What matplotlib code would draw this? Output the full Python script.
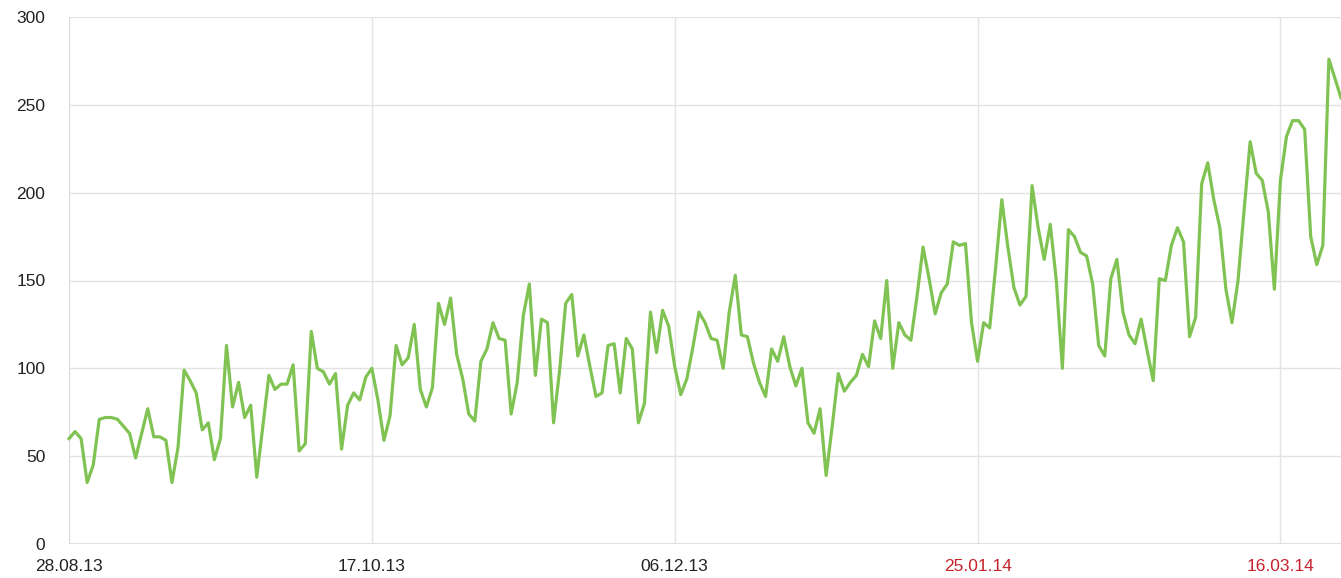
import matplotlib.pyplot as plt
import numpy as np
import pandas as pd

# daily visits, 28.08.13 .. 26.03.14
visits = [
    60, 64, 60, 35, 45, 71, 72, 72, 71, 67,
    63, 49, 63, 77, 61, 61, 59, 35, 55, 99,
    93, 86, 65, 69, 48, 60, 113, 78, 92, 72,
    79, 38, 67, 96, 88, 91, 91, 102, 53, 57,
    121, 100, 98, 91, 97, 54, 79, 86, 82, 95,
    100, 82, 59, 73, 113, 102, 106, 125, 88, 78,
    89, 137, 125, 140, 108, 94, 74, 70, 104, 111,
    126, 117, 116, 74, 92, 130, 148, 96, 128, 126,
    69, 99, 137, 142, 107, 119, 101, 84, 86, 113,
    114, 86, 117, 111, 69, 80, 132, 109, 133, 124,
    101, 85, 94, 112, 132, 126, 117, 116, 100, 132,
    153, 119, 118, 103, 92, 84, 111, 104, 118, 101,
    90, 100, 69, 63, 77, 39, 67, 97, 87, 92,
    96, 108, 101, 127, 117, 150, 100, 126, 119, 116,
    141, 169, 151, 131, 143, 148, 172, 170, 171, 126,
    104, 126, 123, 158, 196, 169, 146, 136, 141, 204,
    180, 162, 182, 150, 100, 179, 175, 166, 164, 148,
    113, 107, 151, 162, 132, 119, 114, 128, 110, 93,
    151, 150, 170, 180, 172, 118, 129, 205, 217, 196,
    180, 145, 126, 150, 190, 229, 211, 207, 189, 145,
    207, 232, 241, 241, 236, 175, 159, 170, 276, 265,
    254,
]
dates = pd.date_range('2013-08-28', periods=len(visits), freq='D')

tick_labels = ['28.08.13', '17.10.13', '06.12.13', '25.01.14', '16.03.14']
tick_colors = ['#222222', '#222222', '#222222', '#c8232c', '#c8232c']
y_ticks = [0, 50, 100, 150, 200, 250, 300]

plt.rcParams['font.family'] = ['Liberation Sans', 'DejaVu Sans']

fig = plt.figure(figsize=(13.41, 5.78), dpi=100)
ax = fig.add_axes([69 / 1341, 34 / 578, 1 - 69 / 1341, (544 - 17) / 578])

ax.plot(dates, visits, color='#80c353', lw=2.3, solid_joinstyle='round',
        clip_on=False, zorder=3)

tick_dates = pd.to_datetime(tick_labels, format='%d.%m.%y')
ax.set_xticks(tick_dates)
ax.set_xticklabels(tick_labels)

ax.set_yticks(y_ticks)
ax.set_ylim(0, 300)
ax.set_xlim(dates[0], dates[-1])

ax.grid(True, color='#e3e3e3', lw=1.0)
ax.set_axisbelow(True)
for s in ax.spines.values():
    s.set_visible(False)
ax.axhline(0, color='#dadada', lw=1.2, zorder=1)
ax.axvline(dates[0], color='#dadada', lw=1.2, zorder=1)

ax.tick_params(axis='both', length=0, labelsize=12.5, colors='#222222')
ax.tick_params(axis='y', pad=17)
ax.tick_params(axis='x', pad=11)
for lbl, c in zip(ax.get_xticklabels(), tick_colors):
    lbl.set_color(c)

fig.savefig('out.png', dpi=100)
